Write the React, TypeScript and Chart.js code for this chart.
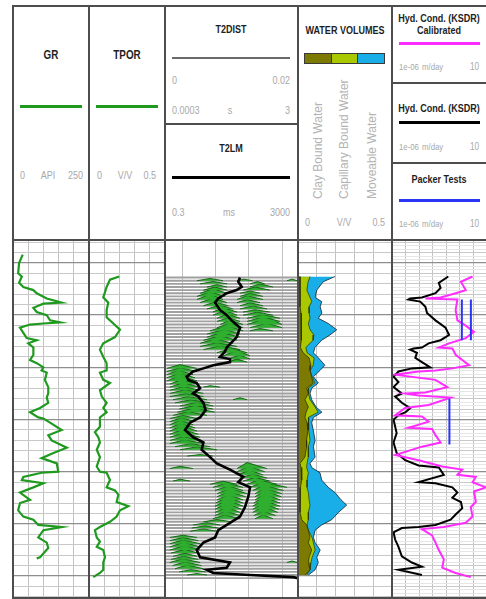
import React, { useEffect, useRef } from "react";
import { Chart, registerables } from "chart.js";

Chart.register(...registerables);

// ---------------- depth frame (ft) ----------------
const DEPTH_TOP = 978;
const DEPTH_BOTTOM = 1321;

// ---------------- GR (API) : [depth, value] ----------------
const GR_LOG: number[][] = [
  [992, 32], [1000, 20], [1010, 17], [1013, 29], [1019, 20], [1023, 34], [1026, 67], [1029, 78],
  [1034, 111], [1038, 160], [1039, 100], [1043, 67], [1047, 78], [1050, 111], [1055, 122], [1057, 155],
  [1058, 100], [1059, 56], [1062, 23], [1067, 34], [1072, 45], [1074, 78], [1077, 50], [1081, 67],
  [1088, 67], [1093, 56], [1096, 78], [1100, 100], [1103, 94], [1105, 111], [1112, 105], [1119, 116],
  [1125, 116], [1129, 111], [1134, 116], [1139, 89], [1143, 56], [1148, 83], [1149, 100], [1153, 122],
  [1160, 160], [1165, 116], [1170, 127], [1177, 177], [1182, 133], [1187, 94], [1192, 144], [1200, 149],
  [1201, 94], [1205, 34], [1208, 29], [1211, 100], [1215, 67], [1220, 23], [1227, 56], [1230, 23],
  [1237, 17], [1243, 34], [1246, 67], [1251, 83], [1253, 160], [1256, 100], [1263, 83], [1268, 111],
  [1273, 116], [1282, 89], [1283, 78],
];

// ---------------- TPOR (V/V) ----------------
const TPOR_LOG: number[][] = [
  [1013, 0.199], [1016, 0.138], [1023, 0.116], [1033, 0.094], [1038, 0.127], [1045, 0.116], [1052, 0.116],
  [1058, 0.16], [1064, 0.204], [1071, 0.171], [1077, 0.094], [1083, 0.072], [1090, 0.094], [1096, 0.116],
  [1103, 0.116], [1105, 0.072], [1112, 0.094], [1115, 0.138], [1122, 0.072], [1128, 0.084], [1134, 0.116],
  [1139, 0.094], [1143, 0.116], [1148, 0.072], [1157, 0.072], [1162, 0.039], [1167, 0.061], [1172, 0.072],
  [1179, 0.051], [1186, 0.072], [1195, 0.051], [1200, 0.072], [1201, 0.116], [1208, 0.138], [1215, 0.116],
  [1218, 0.171], [1222, 0.193], [1229, 0.182], [1233, 0.259], [1237, 0.204], [1243, 0.182], [1248, 0.138],
  [1253, 0.072], [1256, 0.039], [1263, 0.051], [1267, 0.072], [1272, 0.051], [1275, 0.094], [1282, 0.105],
  [1287, 0.094], [1294, 0.094], [1297, 0.072], [1301, 0.028],
];

// ---------------- T2LM (ms) ----------------
const T2LM_LOG: number[][] = [
  [1014, 54], [1018, 48], [1023, 61], [1026, 43], [1029, 21.5], [1034, 12], [1038, 9.6], [1045, 13.5],
  [1050, 21.5], [1055, 30], [1062, 54], [1071, 43], [1081, 21.5], [1085, 19], [1090, 13.5], [1092, 27],
  [1095, 27], [1098, 8.5], [1101, 4.3], [1104, 2.1], [1109, 1.35], [1112, 1.5], [1115, 2.7], [1120, 3.4],
  [1125, 2.1], [1128, 3.0], [1134, 4.3], [1141, 5.0], [1148, 3.4], [1153, 1.7], [1160, 1.2], [1167, 2.1],
  [1172, 4.3], [1179, 3.8], [1186, 6.8], [1192, 10.8], [1198, 27], [1205, 68], [1210, 48], [1215, 108],
  [1224, 96], [1234, 76], [1243, 54], [1249, 27], [1256, 12], [1263, 9.6], [1268, 4.3], [1275, 2.7],
  [1282, 3.4], [1287, 27], [1292, 21.5], [1294, 5.4], [1297, 8.5], [1299, 108], [1301, 2170], [1302, 3000],
];

// ---------------- T2 distributions ----------------
const T2_SAMPLE_TOP = 1014;
const T2_SAMPLE_BOTTOM = 1302;
const T2_SAMPLE_STEP = 3;
// amplitude (0..0.02) shown as upward deflection in ft
const AMP_TO_FT = 360;
// [baseline depth, T2 left foot ms, T2 peak ms, T2 right foot ms, amplitude]
const T2_HUMPS: number[][] = [
  [1017, 2.75, 6.8, 16.7, 0.006], [1017, 44, 70, 130, 0.004], [1017, 1400, 2000, 2800, 0.004],
  [1020, 3.4, 8.3, 22, 0.006], [1020, 108, 180, 300, 0.006],
  [1023, 108, 216, 530, 0.008], [1023, 5.5, 11, 22, 0.006],
  [1026, 4.3, 9.5, 22, 0.008], [1026, 67, 153, 430, 0.008],
  [1029, 3.4, 8.3, 22, 0.012], [1029, 54, 108, 216, 0.006],
  [1032, 2.75, 6.8, 19, 0.012], [1032, 54, 108, 266, 0.008],
  [1035, 2.75, 6.8, 16.7, 0.014], [1035, 44, 88, 266, 0.01],
  [1038, 3.4, 8.3, 22, 0.012], [1038, 44, 88, 216, 0.008],
  [1041, 4.3, 9.5, 24, 0.01], [1041, 54, 108, 266, 0.008],
  [1044, 5.5, 13.5, 33, 0.01], [1044, 54, 130, 350, 0.008],
  [1047, 8.3, 16.7, 44, 0.012], [1047, 67, 153, 430, 0.006],
  [1050, 8.3, 19, 44, 0.012], [1050, 67, 180, 530, 0.008],
  [1053, 11, 22, 54, 0.012], [1053, 88, 266, 860, 0.01],
  [1056, 11, 24, 54, 0.01], [1056, 88, 266, 860, 0.012],
  [1059, 13.5, 27, 67, 0.012], [1059, 88, 390, 1000, 0.018],
  [1062, 11, 27, 67, 0.012], [1062, 108, 350, 1000, 0.012],
  [1065, 6.8, 22, 67, 0.014], [1065, 108, 216, 530, 0.006],
  [1068, 5.5, 19, 54, 0.012], [1071, 5.5, 15, 54, 0.012], [1074, 4.3, 13.5, 44, 0.012],
  [1077, 3.4, 9.5, 33, 0.012], [1080, 3.4, 11, 44, 0.01], [1083, 4.3, 13.5, 54, 0.01],
  [1086, 11, 30, 88, 0.012], [1089, 16.7, 44, 108, 0.014], [1092, 22, 54, 108, 0.01],
  [1095, 22, 44, 88, 0.008],
  [1101, 0.34, 0.85, 2.75, 0.01], [1104, 0.34, 0.85, 2.75, 0.01], [1107, 0.34, 0.75, 2.1, 0.012],
  [1110, 0.34, 0.8, 2.4, 0.012], [1113, 0.34, 0.85, 2.75, 0.014], [1116, 0.42, 0.95, 3.0, 0.012],
  [1119, 0.42, 1.04, 3.4, 0.012], [1119, 4.3, 6.8, 13.5, 0.004], [1122, 0.42, 1.1, 3.4, 0.01],
  [1125, 0.42, 1.2, 4.3, 0.01], [1128, 0.42, 1.3, 4.3, 0.008],
  [1131, 0.52, 1.5, 5.5, 0.008], [1131, 33, 54, 88, 0.005], [1134, 0.6, 1.8, 6.8, 0.008],
  [1137, 0.85, 2.75, 8.3, 0.01], [1140, 0.8, 2.4, 8.3, 0.01], [1143, 0.7, 2.4, 9.5, 0.012],
  [1146, 0.52, 1.5, 5.5, 0.01], [1149, 0.42, 1.04, 2.75, 0.008], [1152, 0.42, 0.95, 2.4, 0.01],
  [1155, 0.42, 0.85, 2.1, 0.012], [1158, 0.42, 0.9, 2.4, 0.012], [1161, 0.42, 0.95, 2.75, 0.014],
  [1164, 0.42, 1.0, 3.0, 0.012], [1167, 0.42, 1.04, 3.4, 0.012], [1170, 0.42, 1.1, 3.8, 0.01],
  [1173, 0.42, 1.2, 4.3, 0.01], [1176, 0.6, 1.8, 6.8, 0.008], [1179, 0.85, 2.75, 11, 0.008],
  [1185, 1.4, 3.4, 8.3, 0.004],
  [1197, 0.42, 0.85, 2.1, 0.006], [1197, 44, 88, 350, 0.016], [1200, 44, 100, 300, 0.014],
  [1203, 44, 108, 266, 0.012], [1206, 54, 130, 350, 0.01],
  [1209, 0.52, 0.85, 1.7, 0.005], [1209, 67, 153, 430, 0.01],
  [1212, 88, 200, 700, 0.012], [1212, 6.8, 16.7, 44, 0.008],
  [1215, 8.3, 22, 67, 0.012], [1215, 108, 266, 1400, 0.014],
  [1218, 9.5, 24, 67, 0.012], [1218, 130, 280, 1100, 0.014],
  [1221, 11, 27, 88, 0.014], [1221, 153, 300, 1000, 0.014],
  [1224, 11, 25, 80, 0.014], [1224, 153, 300, 950, 0.016],
  [1227, 11, 24, 67, 0.014], [1227, 153, 300, 860, 0.016],
  [1230, 10, 23, 67, 0.016], [1230, 140, 280, 860, 0.016],
  [1233, 9.5, 22, 67, 0.016], [1233, 130, 266, 860, 0.016],
  [1236, 9.5, 22, 60, 0.016], [1236, 130, 266, 800, 0.016],
  [1239, 9.5, 22, 54, 0.014], [1239, 130, 266, 740, 0.016],
  [1242, 9.5, 20, 54, 0.012], [1242, 140, 266, 640, 0.012],
  [1245, 8.3, 19, 54, 0.01], [1245, 153, 266, 530, 0.01],
  [1248, 4.3, 11, 30, 0.006], [1251, 2.1, 5.5, 13.5, 0.006], [1254, 1.9, 4.8, 12, 0.006],
  [1257, 1.7, 4.3, 11, 0.006],
  [1263, 0.42, 1.04, 2.75, 0.006], [1266, 0.42, 1.04, 3.0, 0.008], [1269, 0.42, 1.04, 3.4, 0.01],
  [1272, 0.42, 1.1, 3.4, 0.012], [1275, 0.42, 1.2, 3.4, 0.012], [1278, 0.45, 1.2, 3.0, 0.01],
  [1281, 0.52, 1.2, 2.75, 0.008], [1284, 0.45, 1.1, 3.0, 0.008], [1287, 0.42, 1.04, 3.4, 0.01],
  [1287, 1400, 2000, 2800, 0.004], [1290, 0.5, 1.2, 3.8, 0.01], [1293, 0.6, 1.4, 4.3, 0.01],
  [1296, 0.8, 1.8, 5.0, 0.006], [1299, 1.4, 2.75, 5.5, 0.004],
];

// ---------------- Water volumes (V/V): [depth, clay bound, capillary bound, moveable] ----------------
const WATER_VOLUMES: number[][] = [
  [1013, 0.011, 0.053, 0.133], [1018, 0.011, 0.043, 0.08], [1026, 0.011, 0.036, 0.053],
  [1033, 0.011, 0.053, 0.027], [1037, 0.011, 0.062, 0.053], [1042, 0.011, 0.048, 0.059],
  [1048, 0.016, 0.043, 0.068], [1053, 0.016, 0.048, 0.044], [1058, 0.016, 0.039, 0.106],
  [1064, 0.02, 0.044, 0.142], [1069, 0.02, 0.065, 0.085], [1074, 0.016, 0.064, 0.046],
  [1081, 0.013, 0.029, 0.048], [1086, 0.027, 0.021, 0.034], [1091, 0.059, 0.027, 0.023],
  [1098, 0.069, 0.012, 0.062], [1103, 0.064, 0.0, 0.053], [1109, 0.072, 0.003, 0.007],
  [1115, 0.081, 0.009, 0.018], [1120, 0.046, 0.009, 0.018], [1125, 0.055, 0.0, 0.009],
  [1131, 0.037, 0.027, 0.009], [1138, 0.055, 0.036, 0.005], [1143, 0.043, 0.064, 0.02],
  [1148, 0.037, 0.018, 0.027], [1153, 0.048, 0.007, 0.018], [1160, 0.053, 0.005, 0.023],
  [1170, 0.046, 0.018, 0.027], [1176, 0.046, 0.009, 0.027], [1186, 0.037, 0.018, 0.036],
  [1192, 0.011, 0.037, 0.016], [1196, 0.016, 0.03, 0.027], [1201, 0.02, 0.035, 0.062],
  [1208, 0.02, 0.028, 0.078], [1215, 0.013, 0.035, 0.113], [1220, 0.011, 0.044, 0.142],
  [1227, 0.011, 0.048, 0.17], [1232, 0.011, 0.053, 0.195], [1239, 0.011, 0.044, 0.16],
  [1246, 0.02, 0.035, 0.124], [1251, 0.046, 0.002, 0.078], [1256, 0.055, 0.0, 0.036],
  [1263, 0.064, 0.011, 0.007], [1268, 0.055, 0.027, 0.009], [1275, 0.073, 0.018, 0.027],
  [1282, 0.059, 0.016, 0.025], [1287, 0.055, 0.014, 0.039], [1294, 0.064, 0.0, 0.027],
  [1299, 0.037, 0.009, 0.009],
];

// ---------------- Hydraulic conductivity (m/day) ----------------
const KSDR_LOG: number[][] = [
  [1013, 1.4e-2], [1019, 2.8e-3], [1024, 3.8e-3], [1029, 1.6e-3], [1033, 1.6e-4], [1034, 2.2e-5],
  [1035, 1.6e-5], [1037, 1.2e-4], [1042, 2.9e-4], [1048, 3.8e-4], [1055, 1.6e-3], [1062, 8.8e-3],
  [1069, 1.6e-2], [1074, 3.8e-3], [1077, 5.0e-4], [1081, 1.6e-4], [1082, 3.9e-5], [1083, 2.2e-5],
  [1086, 6.9e-5], [1091, 5.2e-5], [1095, 1.6e-4], [1100, 6.7e-4], [1101, 2.9e-5], [1104, 3.0e-6],
  [1109, 1.3e-6], [1114, 3.0e-6], [1119, 1.3e-6], [1125, 5.3e-6], [1128, 1.7e-6], [1134, 5.3e-6],
  [1139, 2.2e-5], [1143, 1.0e-5], [1146, 3.0e-6], [1150, 1.3e-6], [1163, 2.2e-6], [1172, 1.3e-6],
  [1182, 2.2e-6], [1189, 9.3e-6], [1194, 9.1e-5], [1196, 2.8e-3], [1203, 6.6e-3], [1210, 9.1e-5],
  [1211, 1.6e-3], [1215, 2.8e-2], [1220, 6.6e-2], [1225, 2.8e-2], [1229, 0.12], [1235, 0.15],
  [1241, 4.9e-2], [1246, 2.1e-2], [1251, 1.6e-3], [1253, 9.1e-5], [1254, 5.3e-6], [1258, 1.3e-6],
  [1265, 1.7e-6], [1272, 3.0e-6], [1281, 5.3e-6], [1287, 2.9e-5], [1291, 1.6e-4], [1294, 3.0e-6],
  [1299, 1.6e-4],
];
const KSDR_CAL_LOG: number[][] = [
  [1013, 0.86], [1018, 0.12], [1026, 0.27], [1029, 4.9e-2], [1033, 3.8e-3], [1034, 2.9e-4],
  [1035, 6.6e-2], [1045, 4.9e-2], [1055, 6.6e-2], [1060, 0.27], [1066, 1.1], [1072, 0.27],
  [1077, 1.6e-2], [1081, 2.8e-3], [1082, 2.8e-2], [1088, 4.9e-2], [1093, 0.15], [1098, 0.48],
  [1101, 2.8e-2], [1103, 1.6e-3], [1104, 9.1e-5], [1107, 1.7e-6], [1112, 1.6e-3], [1119, 1.2e-2],
  [1124, 2.9e-4], [1125, 9.3e-6], [1127, 9.1e-5], [1129, 2.1e-2], [1136, 5.0e-4], [1139, 9.3e-6],
  [1146, 1.7e-6], [1147, 1.6e-4], [1152, 5.0e-4], [1158, 1.6e-5], [1159, 9.0e-4], [1165, 1.6e-3],
  [1172, 3.8e-3], [1176, 1.6e-4], [1184, 1.7e-6], [1189, 9.1e-5], [1195, 5.0e-3], [1198, 0.15],
  [1203, 6.6e-2], [1205, 1.5], [1210, 0.86], [1215, 8.4], [1219, 1.1], [1229, 1.5], [1234, 0.64],
  [1243, 0.86], [1249, 0.27], [1253, 6.6e-3], [1255, 1.6e-4], [1261, 9.0e-4], [1268, 1.6e-3],
  [1275, 2.8e-3], [1284, 6.6e-3], [1292, 5.0e-3], [1297, 4.9e-2], [1301, 0.64],
];
// packer tests: [top depth, base depth, K]
const PACKER_TESTS: number[][] = [
  [1035, 1074, 0.14],
  [1035, 1074, 0.65],
  [1130, 1174, 0.017],
];

// ---------------- scale grids ----------------
const GR_GRID = [50, 100, 150, 200];
const TPOR_GRID = [0.1, 0.2, 0.3, 0.4];
const T2_GRID = [1, 10, 100, 1000];
const WV_GRID = [0.1, 0.2, 0.3, 0.4];
const K_GRID = [1e-5, 1e-4, 1e-3, 1e-2, 1e-1, 1];

// ---------------- styling ----------------
const BODY_TOP = 240;
const BODY_H = 358;
const GRID_MAJOR = "#8e8e8e";
const GRID_MINOR = "#c8c8c8";
const GRID_FINE = "#e6e6e6";
const GRID_V = "#c3c3c3";
const FRAME = "#4d4d4d";
const GREEN = "#1f9a1f";
const MAGENTA = "#ff2cff";
const BLUE = "#2b35f5";
const OLIVE = "#7c7a00";
const YGREEN = "#a9c800";
const CYAN = "#1aaee8";
const SANS = '"Liberation Sans", Arial, sans-serif';
const SQUEEZE = 0.82;

const isMult = (v: number, s: number) => Math.abs(v / s - Math.round(v / s)) < 1e-6;

function depthGrid(step: number): number[] {
  const out: number[] = [];
  const first = Math.ceil(DEPTH_TOP / step - 1e-9);
  const last = Math.floor(DEPTH_BOTTOM / step + 1e-9);
  for (let i = first; i <= last; i++) out.push(i * step);
  return out;
}

function yDepth(step: number | null): any {
  return {
    type: "linear",
    reverse: true,
    min: DEPTH_TOP,
    max: DEPTH_BOTTOM,
    ticks: { display: false },
    border: { display: false },
    grid: {
      display: step !== null,
      drawTicks: false,
      color: (c: any) => {
        const v = c.tick ? c.tick.value : 0;
        return isMult(v, 50) ? GRID_MAJOR : isMult(v, 10) ? GRID_MINOR : GRID_FINE;
      },
      lineWidth: (c: any) => (c.tick && isMult(c.tick.value, 50) ? 1.3 : 1),
    },
    afterBuildTicks: (s: any) => {
      if (step) s.ticks = depthGrid(step).map((value) => ({ value }));
    },
  };
}

function xValue(type: string, min: number, max: number, lines: number[]): any {
  return {
    type,
    min,
    max,
    position: "bottom",
    ticks: { display: false },
    border: { display: false },
    grid: { drawTicks: false, color: GRID_V, lineWidth: 1 },
    afterBuildTicks: (s: any) => {
      s.ticks = lines.map((value) => ({ value }));
    },
  };
}

function baseOptions(x: any, y: any): any {
  return {
    responsive: false,
    animation: false,
    events: [],
    indexAxis: "y",
    layout: { padding: 0 },
    plugins: { legend: { display: false }, tooltip: { enabled: false } },
    elements: { point: { radius: 0 }, line: { tension: 0 } },
    scales: { x, y },
  };
}

const curve = (pairs: number[][], color: string, width: number, extra: any = {}) => ({
  indexAxis: "y",
  data: pairs.map(([d, v]) => ({ x: v, y: d })),
  borderColor: color,
  borderWidth: width,
  pointRadius: 0,
  fill: false,
  tension: 0,
  ...extra,
});

function grConfig(): any {
  return {
    type: "line",
    data: { datasets: [curve(GR_LOG, GREEN, 2.2)] },
    options: baseOptions(xValue("linear", 0, 250, GR_GRID), yDepth(10)),
  };
}

function tporConfig(): any {
  return {
    type: "line",
    data: { datasets: [curve(TPOR_LOG, GREEN, 2.2)] },
    options: baseOptions(xValue("linear", 0, 0.5, TPOR_GRID), yDepth(10)),
  };
}

function t2Config(): any {
  // baselines of each T2 distribution sample (zig-zag across the track)
  const base: any[] = [];
  let k = 0;
  for (let d = T2_SAMPLE_TOP; d <= T2_SAMPLE_BOTTOM; d += T2_SAMPLE_STEP, k++) {
    if (k % 2 === 0) base.push({ x: 0.3, y: d }, { x: 3000, y: d });
    else base.push({ x: 3000, y: d }, { x: 0.3, y: d });
  }
  const humps = T2_HUMPS.map(([d, l, p, r, a]) => ({
    indexAxis: "x",
    data: [
      { x: l, y: d },
      { x: p, y: d - a * AMP_TO_FT },
      { x: r, y: d },
    ],
    borderColor: "#0f5e0f",
    borderWidth: 0.9,
    backgroundColor: "#2fae2f",
    fill: { value: d },
    pointRadius: 0,
    tension: 0,
  }));
  return {
    type: "line",
    data: {
      datasets: [
        curve(T2LM_LOG, "#000000", 2.6),
        ...humps,
        { indexAxis: "y", data: base, borderColor: "#a0a0a0", borderWidth: 1.9, pointRadius: 0, fill: false },
      ],
    },
    options: baseOptions(xValue("logarithmic", 0.3, 3000, T2_GRID), yDepth(null)),
  };
}

function wvConfig(): any {
  // cumulative edges; each filled from the zero line, drawn deepest-stack first
  const clay = WATER_VOLUMES.map(([d, c]) => [d, c]);
  const cap = WATER_VOLUMES.map(([d, c, b]) => [d, c + b]);
  const tot = WATER_VOLUMES.map(([d, c, b, m]) => [d, c + b + m]);
  return {
    type: "line",
    data: {
      datasets: [
        curve(clay, "#262600", 0.7, { fill: "origin", backgroundColor: OLIVE }),
        curve(cap, "#263300", 0.7, { fill: "origin", backgroundColor: YGREEN }),
        curve(tot, "#12222e", 0.8, { fill: "origin", backgroundColor: CYAN }),
      ],
    },
    options: baseOptions(xValue("linear", 0, 0.5, WV_GRID), yDepth(10)),
  };
}

function hydConfig(): any {
  const packers = PACKER_TESTS.map(([t, b, k]) => curve([[t, k], [b, k]], BLUE, 2));
  return {
    type: "line",
    data: {
      datasets: [...packers, curve(KSDR_CAL_LOG, MAGENTA, 2), curve(KSDR_LOG, "#000000", 2)],
    },
    options: baseOptions(xValue("logarithmic", 1e-6, 10, K_GRID), yDepth(10 / 3)),
  };
}

function Track({ left, width, make }: { left: number; width: number; make: () => any }) {
  const ref = useRef<HTMLCanvasElement>(null);
  useEffect(() => {
    const chart = new Chart(ref.current as HTMLCanvasElement, make());
    return () => chart.destroy();
  }, []);
  return (
    <canvas
      ref={ref}
      width={width}
      height={BODY_H}
      style={{ position: "absolute", left, top: BODY_TOP, width, height: BODY_H, display: "block" }}
    />
  );
}

// ---------------- header helpers ----------------
function Txt({ x, y, align = "center", bold = false, size = 11, color = "#a8a8a8", children }: any) {
  const tx = align === "left" ? "0" : align === "right" ? "-100%" : "-50%";
  const ox = align === "left" ? "0%" : align === "right" ? "100%" : "50%";
  return (
    <div
      style={{
        position: "absolute",
        left: x,
        top: y,
        transformOrigin: `${ox} 50%`,
        transform: `translate(${tx}, -50%) scaleX(${SQUEEZE})`,
        fontFamily: SANS,
        fontWeight: bold ? 700 : 400,
        fontSize: size,
        lineHeight: 1,
        color,
        whiteSpace: "nowrap",
      }}
    >
      {children}
    </div>
  );
}
const Title = (p: any) => <Txt bold size={11} color="#1e1e1e" {...p} />;

function Bar({ x1, x2, y, h, color }: any) {
  return <div style={{ position: "absolute", left: x1, top: y - h / 2, width: x2 - x1, height: h, background: color }} />;
}
function VLine({ x, y1, y2 }: any) {
  return <div style={{ position: "absolute", left: x - 1, top: y1 - 1, width: 2, height: y2 - y1 + 2, background: FRAME }} />;
}
function HLine({ y, x1, x2 }: any) {
  return <div style={{ position: "absolute", left: x1 - 1, top: y - 1, width: x2 - x1 + 2, height: 2, background: FRAME }} />;
}
function VText({ x, yBottom, children }: any) {
  return (
    <div
      style={{
        position: "absolute",
        left: x,
        top: yBottom,
        transformOrigin: "0 0",
        transform: "rotate(-90deg) translateY(-50%)",
        fontFamily: SANS,
        fontSize: 12,
        lineHeight: 1,
        color: "#b3b3b3",
        whiteSpace: "nowrap",
      }}
    >
      {children}
    </div>
  );
}

function UnitRow({ y }: { y: number }) {
  return (
    <>
      <Txt x={399} y={y} align="left" size={9.5}>1e-06</Txt>
      <Txt x={422} y={y} align="left" size={9.5}>m/day</Txt>
      <Txt x={479} y={y} align="right" size={10}>10</Txt>
    </>
  );
}

export default function App() {
  const L = 13, X1 = 89, X2 = 165, X3 = 298, X4 = 392, R = 487;
  const TOP = 6, HB = 240, BOT = 598;
  return (
    <div style={{ position: "absolute", left: 0, top: 0, width: 486, height: 599, background: "#fff", overflow: "hidden" }}>
      {/* body tracks */}
      <Track left={L} width={X1 - L} make={grConfig} />
      <Track left={X1} width={X2 - X1} make={tporConfig} />
      <Track left={X2} width={X3 - X2} make={t2Config} />
      <Track left={X3} width={X4 - X3} make={wvConfig} />
      <Track left={X4} width={R - X4} make={hydConfig} />

      {/* header: GR */}
      <Title x={51} y={55} size={12}>GR</Title>
      <Bar x1={20} x2={82} y={106} h={3} color={GREEN} />
      <Txt x={20} y={175} align="left">0</Txt>
      <Txt x={48} y={175}>API</Txt>
      <Txt x={83} y={175} align="right">250</Txt>

      {/* header: TPOR */}
      <Title x={127} y={55} size={12}>TPOR</Title>
      <Bar x1={96} x2={158} y={106} h={3} color={GREEN} />
      <Txt x={97} y={175} align="left">0</Txt>
      <Txt x={125} y={175}>V/V</Txt>
      <Txt x={156} y={175} align="right">0.5</Txt>

      {/* header: T2DIST / T2LM */}
      <Title x={231} y={29}>T2DIST</Title>
      <Bar x1={172} x2={290} y={58} h={1.5} color="#6a6a6a" />
      <Txt x={172} y={80} align="left">0</Txt>
      <Txt x={290} y={80} align="right">0.02</Txt>
      <Txt x={172} y={110} align="left">0.0003</Txt>
      <Txt x={230} y={110}>s</Txt>
      <Txt x={290} y={110} align="right">3</Txt>
      <Title x={231} y={148}>T2LM</Title>
      <Bar x1={172} x2={290} y={177} h={3} color="#000" />
      <Txt x={172} y={212} align="left">0.3</Txt>
      <Txt x={229} y={212}>ms</Txt>
      <Txt x={290} y={212} align="right">3000</Txt>

      {/* header: WATER VOLUMES */}
      <Title x={345} y={30}>WATER VOLUMES</Title>
      <div
        style={{
          position: "absolute",
          left: 304,
          top: 53,
          width: 81,
          height: 11,
          border: "1px solid #3a3a3a",
          display: "flex",
          boxSizing: "border-box",
        }}
      >
        <div style={{ flex: 1, background: OLIVE, borderRight: "1px solid #3a3a3a" }} />
        <div style={{ flex: 1, background: YGREEN, borderRight: "1px solid #3a3a3a" }} />
        <div style={{ flex: 1, background: CYAN }} />
      </div>
      <VText x={318} yBottom={199}>Clay Bound Water</VText>
      <VText x={344} yBottom={199}>Capillary Bound Water</VText>
      <VText x={372} yBottom={199}>Moveable Water</VText>
      <Txt x={305} y={222} align="left">0</Txt>
      <Txt x={344} y={222}>V/V</Txt>
      <Txt x={385} y={222} align="right">0.5</Txt>

      {/* header: hydraulic conductivity */}
      <Title x={439} y={18}>Hyd. Cond. (KSDR)</Title>
      <Title x={439} y={30}>Calibrated</Title>
      <Bar x1={399} x2={480} y={43} h={3} color={MAGENTA} />
      <UnitRow y={67} />

      <Title x={439} y={108}>Hyd. Cond. (KSDR)</Title>
      <Bar x1={399} x2={480} y={122} h={3} color="#000" />
      <UnitRow y={147} />

      <Title x={439} y={179}>Packer Tests</Title>
      <Bar x1={399} x2={480} y={200} h={3} color={BLUE} />
      <UnitRow y={224} />

      {/* frame */}
      <HLine y={TOP} x1={L} x2={R} />
      <HLine y={HB} x1={L} x2={R} />
      <HLine y={BOT} x1={L} x2={R} />
      <HLine y={124} x1={X2} x2={X3} />
      <HLine y={83} x1={X4} x2={R} />
      <HLine y={163} x1={X4} x2={R} />
      <VLine x={L} y1={TOP} y2={BOT} />
      <VLine x={X1} y1={TOP} y2={BOT} />
      <VLine x={X2} y1={TOP} y2={BOT} />
      <VLine x={X3} y1={TOP} y2={BOT} />
      <VLine x={X4} y1={TOP} y2={BOT} />
    </div>
  );
}
